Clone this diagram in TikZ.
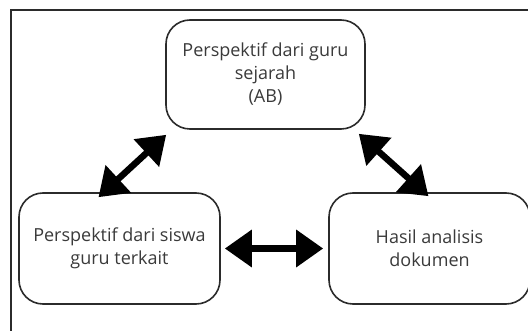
\documentclass[tikz,border=0pt]{standalone}
\usepackage{fontspec}
\setmainfont{Open Sans}
\usepackage{xcolor}
\usepackage{tikz}
\usetikzlibrary{positioning, arrows.meta, calc}
\definecolor{garis}{HTML}{2B2B2B}
\definecolor{teks}{HTML}{3A3A3A}

\tikzset{
  kotak/.style={draw=garis, line width=1.6pt, rounded corners=24pt, align=center,
    text=teks, font=\fontsize{18}{23}\selectfont, inner sep=0pt},
  panah/.style={line width=6.5pt, {Triangle[length=27pt,width=36pt]}-{Triangle[length=27pt,width=36pt]}},
}

\begin{document}
\begin{tikzpicture}[x=1pt, y=-1pt]
    \useasboundingbox (0,0) rectangle (528,331);
    \draw[garis, line width=1.3pt] (11,10) rectangle (545,345);

    \node[kotak, minimum width=199pt, minimum height=109pt] (guru) at (265.5,74.5)
      {Perspektif dari guru\\sejarah\\(AB)};
    \node[kotak, minimum width=201pt, minimum height=111pt] (siswa) at (119.5,248.5)
      {Perspektif dari siswa\\guru terkait};
    \node[kotak, minimum width=201pt, minimum height=111pt] (dokumen) at (429.5,248.5)
      {Hasil analisis\\dokumen};

    \draw[panah] ([shift={(-21pt,-5pt)}]siswa.north) -- ([shift={(1pt,-5pt)}]guru.south west);
    \draw[panah] ([shift={(-7pt,-4pt)}]guru.south east) -- ([shift={(-1pt,-4pt)}]dokumen.north);
    \draw[panah] ([xshift=4pt]siswa.east) -- ([xshift=-5pt]dokumen.west);
\end{tikzpicture}
\end{document}
